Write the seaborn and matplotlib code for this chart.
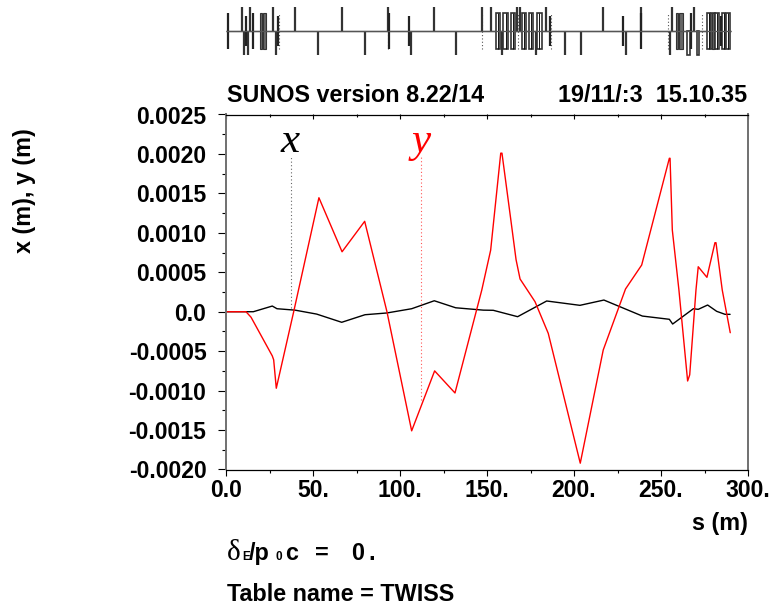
import numpy as np
import pandas as pd
import matplotlib
matplotlib.use('Agg')
import matplotlib.pyplot as plt
import seaborn as sns

# orbit curves
s_y = [0, 11.5, 14.4, 26.6, 27.4, 28.9, 38.9, 53.4, 66.7, 79.7, 92.5, 106.7, 119.9, 131.6,
       147, 152.1, 157.9, 158.6, 163.6, 166.7, 169, 177.6, 185.2, 203.6, 216.8, 229.6, 238.9,
       254.8, 255.2, 256.5, 260.3, 265.3, 266.5, 270.1, 271.4, 276.4, 281, 281.6, 285.2, 289.8]
y_m = [0, 0, -0.00007, -0.00056, -0.00061, -0.00097, 0, 0.001445, 0.00076, 0.001146, 0, -0.00151,
       -0.00075, -0.00103, 0.000275, 0.00078, 0.00201, 0.00201, 0.00118, 0.00066, 0.000415,
       0.000127, -0.000274, -0.00192, -0.000485, 0.000288, 0.000592, 0.001945, 0.001945, 0.001036,
       0.000275, -0.000878, -0.0008, 0.000275, 0.00057, 0.000436, 0.000875, 0.000875, 0.000275, -0.000266]
s_x = [0, 15.7, 26.6, 29.3, 39.7, 52.1, 66.5, 79.9, 92.4, 106.7, 119.7, 132, 147.9, 153.6, 167.6,
       184.3, 203.4, 217.2, 239.3, 254.8, 256.7, 268.6, 271.4, 276.8, 282, 286.8, 289.7]
x_m = [0, 0, 0.000072, 0.000038, 0.00002, -0.00003, -0.000134, -0.000038, -0.000016, 0.000038,
       0.000139, 0.00005, 0.00002, 0.000018, -0.000063, 0.000136, 0.000081, 0.000148, -0.000055,
       -0.000096, -0.000156, 0.000038, 0.00003, 0.000085, 0.000005, -0.000033, -0.000033]

x_ticks = [0, 50, 100, 150, 200, 250, 300]
x_labels = ['0.0', '50.', '100.', '150.', '200.', '250.', '300.']
y_ticks = [-0.002, -0.0015, -0.001, -0.0005, 0, 0.0005, 0.001, 0.0015, 0.002, 0.0025]
y_labels = ['-0.0020', '-0.0015', '-0.0010', '-0.0005', '0.0', '0.0005', '0.0010', '0.0015', '0.0020', '0.0025']

# machine layout, s positions of the elements
up_long = [9.0, 13.8, 27.2, 39.7, 66.5, 92.9, 119.7, 147.0, 152.5, 167, 169, 183.9, 216.8, 238.3, 256.1, 269]
down_long = [10.3, 12.6, 28.7, 53, 79.9, 106.3, 132, 158.4, 178, 194.8, 203.8, 229.7, 255.2]
both_mid = [1.1, 15.3, 93.9, 238.3, 267]
both_short = [11.5, 30, 105.3, 186.2, 228, 284.3]
dotted_both = [21, 30.5, 93, 147.3, 168, 186.5, 254.2, 273.7]
open_start = [155.2, 159.4, 163.6, 170, 174.3, 178.9, 276.3, 278.8, 281.3, 285.2, 287.4]
open_end = [157.5, 161.9, 166.1, 172.4, 176.6, 181.4, 278.3, 280.8, 283.3, 287, 289.5]
dark_start = [19.5, 21.3, 258.6, 260.4, 279.3]
dark_end = [20.5, 22.8, 260, 262.5, 280.6]
open_down_start = [265.1, 270.5]
open_down_end = [266.7, 271.8]

sns.set_theme(style='ticks')
plt.rcParams['font.family'] = ['Liberation Sans', 'DejaVu Sans']
plt.rcParams['font.weight'] = 'bold'

W, H = 773, 608
fig = plt.figure(figsize=(W / 100, H / 100), dpi=100)


def label(px, py, txt, size=16.8, **kw):
    fig.text(px / W, 1 - py / H, txt, fontsize=size, color='black', **kw)


ax = fig.add_axes([226 / W, 1 - 469.5 / H, 522 / W, 355 / H])
df_y = pd.DataFrame({'s': s_y, 'v': y_m})
df_x = pd.DataFrame({'s': s_x, 'v': x_m})
sns.lineplot(data=df_x, x='s', y='v', color='black', lw=1.0, sort=False, estimator=None, ax=ax)
sns.lineplot(data=df_y, x='s', y='v', color='red', lw=1.0, sort=False, estimator=None, ax=ax)
ax.vlines(37.4, 0.00005, 0.00197, color='#666666', lw=0.8, linestyles=(0, (1, 2.2)))
ax.vlines(112.3, -0.00112, 0.00197, color='#ff5555', lw=0.8, linestyles=(0, (1, 2.2)))

ax.set_xlim(0, 300)
ax.set_ylim(-0.002, 0.0025)
ax.set_xlabel('')
ax.set_ylabel('')
ax.set_xticks(x_ticks)
ax.set_xticklabels(x_labels)
ax.set_yticks(y_ticks)
ax.set_yticklabels(y_labels)
ax.set_xticks(np.arange(25, 300, 50), minor=True)
ax.set_yticks(np.arange(-0.00175, 0.0025, 0.0005), minor=True)
ax.tick_params(axis='both', which='major', length=5.6, width=0.8, color='black', labelsize=16.6, labelcolor='black')
ax.tick_params(axis='both', which='minor', length=3.1, width=0.8, color='black')
ax.tick_params(axis='x', which='major', length=4, pad=3)
ax.tick_params(axis='x', which='minor', length=2.4)
ax.tick_params(axis='y', which='major', pad=8.5)
for side in ['top', 'bottom']:
    ax.spines[side].set_color('black')
    ax.spines[side].set_linewidth(0.9)
for side in ['left', 'right']:
    ax.spines[side].set_visible(True)
    ax.spines[side].set_color('#707070')
    ax.spines[side].set_linewidth(1.4)

top = ax.secondary_xaxis('top')
top.set_xticks(x_ticks)
top.set_xticklabels([])
top.set_xticks(np.arange(25, 300, 50), minor=True)
top.tick_params(axis='x', which='major', direction='in', length=3.6, width=0.8, color='black')
top.tick_params(axis='x', which='minor', direction='in', length=1.8, width=0.8, color='black')
top.spines['top'].set_visible(False)

# layout strip above the plot
lat = fig.add_axes([226 / W, 1 - 57 / H, 522 / W, 52 / H])
lat.set_xlim(0, 300)
lat.set_ylim(-1.08, 1.08)
lat.axis('off')
lat.hlines(0, 0, 290, color='#555555', lw=1.0)
dotted = (0, (1, 2))
lat.vlines(dotted_both, -0.75, 0.75, color='#555555', lw=0.8, linestyles=dotted)
starts = np.array(open_start)
ends = np.array(open_end)
lat.bar(starts, 1.5, width=ends - starts, bottom=-0.75, align='edge', facecolor='white',
        edgecolor='#333333', lw=1.2, zorder=3)
lat.vlines((starts + ends) / 2, -0.75, 0.75, color='#111111', lw=0.7, zorder=3)
starts = np.array(dark_start)
ends = np.array(dark_end)
lat.bar(starts, 1.5, width=ends - starts, bottom=-0.75, align='edge', facecolor='#666666',
        edgecolor='#333333', lw=0.8, zorder=3)
starts = np.array(open_down_start)
ends = np.array(open_down_end)
lat.bar(starts, -1, width=ends - starts, bottom=0, align='edge', facecolor='white',
        edgecolor='#333333', lw=1.2, zorder=3)
lat.vlines(up_long, 0, 1, color='#333333', lw=1.6, zorder=4)
lat.vlines(down_long, -1, 0, color='#333333', lw=1.6, zorder=4)
lat.vlines(both_mid, -0.75, 0.75, color='#222222', lw=1.6, zorder=4)
lat.vlines(both_short, -0.62, 0.62, color='#222222', lw=1.6, zorder=4)
lat.hlines(0, 0, 290, color='#555555', lw=0.9, zorder=5)

# texts
label(227, 102, 'SUNOS version 8.22/14', va='baseline')
label(747, 102, '19/11/:3  15.10.35', va='baseline', ha='right')
label(25, 191, 'x (m), y (m)', rotation=90, ha='center', va='center')
label(748, 530, 's (m)', ha='right', va='baseline')
label(227, 601, 'Table name = TWISS', va='baseline')

serif = ['Liberation Serif', 'DejaVu Serif']
fig.text(281 / W, 1 - 152 / H, 'x', fontsize=31, style='italic', fontweight='normal', family=serif, color='black')
fig.text(412 / W, 1 - 152 / H, 'y', fontsize=31, style='italic', fontweight='normal', family=serif, color='red')

fig.text(226.5 / W, 1 - 560 / H, 'δ', fontsize=21, fontweight='normal', family=serif, color='black')
label(242, 560, 'E', size=8.5, va='baseline')
label(249, 560, '/p', va='baseline')
label(275.5, 560, '0', size=8.5, va='baseline')
label(285, 560, 'c', va='baseline')
label(315, 560, '=', va='baseline')
label(351.5, 560, '0', va='baseline')
label(368, 560, '.', va='baseline')

fig.savefig('out.png', dpi=100, facecolor='white')
